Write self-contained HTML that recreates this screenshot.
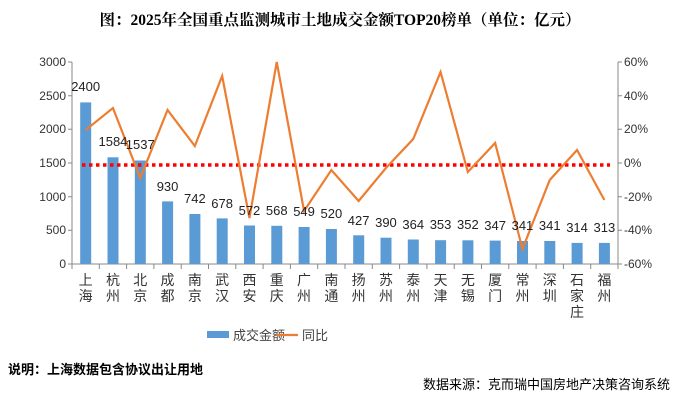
<!DOCTYPE html>
<html><head><meta charset="utf-8"><style>
body{margin:0;background:#fff}
svg{display:block}
text{font-family:"Liberation Sans","Noto Sans CJK SC",sans-serif}
</style></head><body>
<svg width="681" height="401" viewBox="0 0 681 401" xmlns="http://www.w3.org/2000/svg">
<rect width="681" height="401" fill="#fff"/>
<text x="340" y="25" text-anchor="middle" font-size="15.5" font-weight="bold" style="font-family:'Liberation Serif','Noto Serif CJK SC',serif">图：2025年全国重点监测城市土地成交金额TOP20榜单（单位：亿元）</text>
<g stroke="#888" stroke-width="1" fill="none">
<line x1="72" y1="62" x2="72" y2="264"/>
<line x1="618" y1="62" x2="618" y2="264"/>
<line x1="72" y1="264" x2="618" y2="264"/>
<path d="M68 62H72M68 95.7H72M68 129.3H72M68 163H72M68 196.7H72M68 230.3H72M68 264H72"/>
<path d="M618 62H622M618 95.7H622M618 129.3H622M618 163H622M618 196.7H622M618 230.3H622M618 264H622"/>
<path d="M72 264v5M99.3 264v5M126.6 264v5M153.9 264v5M181.2 264v5M208.5 264v5M235.8 264v5M263.1 264v5M290.4 264v5M317.7 264v5M345 264v5M372.3 264v5M399.6 264v5M426.9 264v5M454.2 264v5M481.5 264v5M508.8 264v5M536.1 264v5M563.4 264v5M590.7 264v5M618 264v5"/>
</g>
<g font-size="12" fill="#333" text-anchor="end">
<text x="66" y="66">3000</text><text x="66" y="100">2500</text><text x="66" y="133">2000</text><text x="66" y="167">1500</text><text x="66" y="201">1000</text><text x="66" y="234">500</text><text x="66" y="268">0</text>
</g>
<g font-size="12" fill="#333">
<text x="624" y="66">60%</text><text x="624" y="100">40%</text><text x="624" y="133">20%</text><text x="624" y="167">0%</text><text x="624" y="201">-20%</text><text x="624" y="234">-40%</text><text x="624" y="268">-60%</text>
</g>
<g fill="#5b9bd5">
<rect x="80.2" y="102.4" width="11" height="161.6"/>
<rect x="107.5" y="157.3" width="11" height="106.7"/>
<rect x="134.8" y="160.5" width="11" height="103.5"/>
<rect x="162.1" y="201.4" width="11" height="62.6"/>
<rect x="189.4" y="214" width="11" height="50"/>
<rect x="216.7" y="218.4" width="11" height="45.6"/>
<rect x="244" y="225.5" width="11" height="38.5"/>
<rect x="271.3" y="225.8" width="11" height="38.2"/>
<rect x="298.6" y="227" width="11" height="37"/>
<rect x="325.9" y="229" width="11" height="35"/>
<rect x="353.2" y="235.3" width="11" height="28.7"/>
<rect x="380.5" y="237.7" width="11" height="26.3"/>
<rect x="407.8" y="239.5" width="11" height="24.5"/>
<rect x="435.1" y="240.2" width="11" height="23.8"/>
<rect x="462.4" y="240.3" width="11" height="23.7"/>
<rect x="489.7" y="240.6" width="11" height="23.4"/>
<rect x="517" y="241" width="11" height="23"/>
<rect x="544.3" y="241" width="11" height="23"/>
<rect x="571.6" y="242.9" width="11" height="21.1"/>
<rect x="598.9" y="242.9" width="11" height="21.1"/>
</g>
<line x1="82" y1="165" x2="610" y2="165" stroke="#ff0000" stroke-width="3.5" stroke-dasharray="3.5,3.5"/>
<polyline fill="none" stroke="#ed7d31" stroke-width="2.2" stroke-linejoin="miter" points="85.65,130 112.95,108 140.25,178 167.55,110 194.85,146 222.15,76 249.45,218 276.75,62 304.05,211 331.35,170 358.65,201 385.95,168 413.25,139 440.55,72 467.85,172 495.15,143 522.45,249 549.75,180 577.05,150 604.35,200"/>
<g font-size="13" fill="#222" text-anchor="middle">
<text x="85.65" y="91">2400</text><text x="112.95" y="146">1584</text><text x="140.25" y="149">1537</text><text x="167.55" y="191">930</text><text x="194.85" y="203">742</text><text x="222.15" y="208">678</text><text x="249.45" y="215">572</text><text x="276.75" y="215">568</text><text x="304.05" y="216">549</text><text x="331.35" y="218">520</text><text x="358.65" y="225">427</text><text x="385.95" y="227">390</text><text x="413.25" y="229">364</text><text x="440.55" y="229">353</text><text x="467.85" y="229">352</text><text x="495.15" y="230">347</text><text x="522.45" y="230">341</text><text x="549.75" y="230">341</text><text x="577.05" y="232">314</text><text x="604.35" y="232">313</text>
</g>
<g font-size="14" fill="#333" text-anchor="middle">
<text x="85.65" y="285">上</text><text x="85.65" y="301">海</text>
<text x="112.95" y="285">杭</text><text x="112.95" y="301">州</text>
<text x="140.25" y="285">北</text><text x="140.25" y="301">京</text>
<text x="167.55" y="285">成</text><text x="167.55" y="301">都</text>
<text x="194.85" y="285">南</text><text x="194.85" y="301">京</text>
<text x="222.15" y="285">武</text><text x="222.15" y="301">汉</text>
<text x="249.45" y="285">西</text><text x="249.45" y="301">安</text>
<text x="276.75" y="285">重</text><text x="276.75" y="301">庆</text>
<text x="304.05" y="285">广</text><text x="304.05" y="301">州</text>
<text x="331.35" y="285">南</text><text x="331.35" y="301">通</text>
<text x="358.65" y="285">扬</text><text x="358.65" y="301">州</text>
<text x="385.95" y="285">苏</text><text x="385.95" y="301">州</text>
<text x="413.25" y="285">泰</text><text x="413.25" y="301">州</text>
<text x="440.55" y="285">天</text><text x="440.55" y="301">津</text>
<text x="467.85" y="285">无</text><text x="467.85" y="301">锡</text>
<text x="495.15" y="285">厦</text><text x="495.15" y="301">门</text>
<text x="522.45" y="285">常</text><text x="522.45" y="301">州</text>
<text x="549.75" y="285">深</text><text x="549.75" y="301">圳</text>
<text x="577.05" y="285">石</text><text x="577.05" y="301">家</text><text x="577.05" y="317">庄</text>
<text x="604.35" y="285">福</text><text x="604.35" y="301">州</text>
</g>
<rect x="207" y="331" width="22" height="7" fill="#5b9bd5"/>
<text x="233" y="340" font-size="13" fill="#444">成交金额</text>
<line x1="276" y1="335" x2="298" y2="335" stroke="#ed7d31" stroke-width="2.2"/>
<text x="302" y="340" font-size="13" fill="#444">同比</text>
<text x="8" y="374" font-size="13" font-weight="bold" fill="#000">说明：上海数据包含协议出让用地</text>
<text x="670" y="389" font-size="13" fill="#000" text-anchor="end">数据来源：克而瑞中国房地产决策咨询系统</text>
</svg>
</body></html>
